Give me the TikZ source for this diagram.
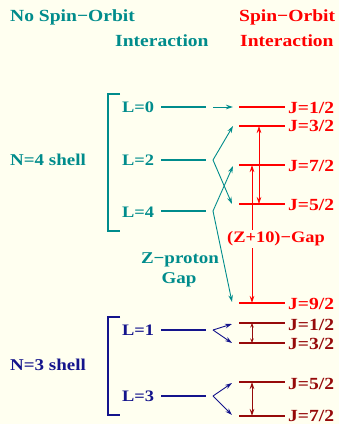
\documentclass[tikz,border=0pt]{standalone}
\usepackage{fontspec}
\setmainfont{Liberation Serif}[FakeStretch=1.15]
\usetikzlibrary{arrows.meta}
\definecolor{bg}{RGB}{255,255,240}
\definecolor{tealc}{RGB}{0,140,140}
\definecolor{navyc}{RGB}{20,20,140}
\definecolor{redc}{RGB}{255,0,0}
\definecolor{dredc}{RGB}{150,10,10}
\begin{document}
\begin{tikzpicture}[x=1pt,y=-1pt,
  lbl/.style={font=\fontsize{16}{19}\selectfont\bfseries, inner sep=0pt, anchor=base west},
  jlbl/.style={font=\fontsize{17}{19}\selectfont\bfseries, inner sep=0pt, anchor=base west},
  big/.style={font=\fontsize{16.5}{19}\selectfont\bfseries, inner sep=0pt},
  hdr/.style={font=\fontsize{17}{20}\selectfont\bfseries, inner sep=0pt, anchor=base west},
  lvl/.style={line width=1.6pt},
  brk/.style={line width=1.5pt},
  tip/.style={line width=0.9pt,-{Stealth[length=7pt,width=4.5pt]}},
  dtip/.style={{Stealth[length=7pt,width=4.5pt]}-{Stealth[length=7pt,width=4.5pt]}},
  stip/.style={line width=0.8pt,{Stealth[length=4.5pt,width=3.5pt]}-{Stealth[length=4.5pt,width=3.5pt]}}
]
\fill[bg] (0,0) rectangle (339,424);
\useasboundingbox (0,0) rectangle (339,424);

% headers
\node[hdr, text=tealc] (h1) at (10,21) {No Spin−Orbit};
\node[hdr, text=tealc] (h2) at (115,46.7) {Interaction};
\node[hdr, text=redc] (h3) at (239,21) {Spin−Orbit};
\node[hdr, text=redc] (h4) at (240,46.7) {Interaction};

% ---------- N=4 shell ----------
\node[big, anchor=base west, text=tealc] (n4) at (10,165.7) {N=4 shell};
\draw[tealc, brk] (120,94) -- (108,94) -- (108,231) -- (120,231);
\node[lbl, text=tealc] (L0) at (122,112.7) {L=0};
\node[lbl, text=tealc] (L2) at (122,165.7) {L=2};
\node[lbl, text=tealc] (L4) at (122,217) {L=4};
\coordinate (l0s) at (161,107); \coordinate (l0e) at (206,107);
\coordinate (l2s) at (161,160); \coordinate (l2e) at (206,160);
\coordinate (l4s) at (161,211); \coordinate (l4e) at (206,211);
\draw[tealc, lvl] (l0s) -- (l0e);
\draw[tealc, lvl] (l2s) -- (l2e);
\draw[tealc, lvl] (l4s) -- (l4e);
\coordinate (k0) at (213,107);
\coordinate (k2) at (213,160);
\coordinate (k4) at (213,211);

% red levels
\coordinate (a12) at (239,107); \coordinate (b12) at (285,107);
\coordinate (a32) at (239,126); \coordinate (b32) at (285,126);
\coordinate (a72) at (239,165); \coordinate (b72) at (285,165);
\coordinate (a52) at (239,204); \coordinate (b52) at (285,204);
\coordinate (a92) at (239,303); \coordinate (b92) at (285,303);
\foreach \p in {12,32,72,52,92} { \draw[redc, lvl] (a\p) -- (b\p); }
\node[jlbl, text=redc] (J12) at (288,113.3) {J=1/2};
\node[jlbl, text=redc] (J32) at (288,131) {J=3/2};
\node[jlbl, text=redc] (J72) at (288,171.5) {J=7/2};
\node[jlbl, text=redc] (J52) at (288,210.5) {J=5/2};
\node[jlbl, text=redc] (J92) at (288,309.5) {J=9/2};

% teal arrows
\coordinate (t12) at (233,107);
\coordinate (t32) at (233,126);
\coordinate (t52) at (232,204);
\coordinate (t72) at (233,166);
\coordinate (t92) at (232,302);
\draw[tealc, tip] (k0) -- (t12);
\draw[tealc, tip] (k2) -- (t32);
\draw[tealc, tip] (k2) -- (t52);
\draw[tealc, tip] (k4) -- (t72);
\draw[tealc, tip] (k4) -- (t92);

% red arrows
\coordinate (r1t) at (259,126); \coordinate (r1b) at (259,204);
\coordinate (r2t) at (252,165); \coordinate (r2b) at (252,303);
\draw[redc, line width=0.6pt, dtip] (r1t) -- (r1b);
\draw[redc, line width=1pt, dtip] (r2t) -- (r2b);
\node[font=\fontsize{16}{19}\selectfont\bfseries, text=redc, fill=bg, inner sep=2pt] (gap) at (276,239) {(Z+10)−Gap};

\node[big, text=tealc, anchor=base] (zp1) at (180,263) {Z−proton};
\node[big, text=tealc, anchor=base] (zp2) at (179,283) {Gap};

% ---------- N=3 shell ----------
\node[big, anchor=base west, text=navyc] (n3) at (10,370) {N=3 shell};
\draw[navyc, brk] (120,317) -- (108,317) -- (108,415) -- (120,415);
\node[lbl, text=navyc] (L1) at (122,335.7) {L=1};
\node[lbl, text=navyc] (L3) at (122,401.7) {L=3};
\coordinate (l1s) at (161,330); \coordinate (l1e) at (206,330);
\coordinate (l3s) at (161,396); \coordinate (l3e) at (206,396);
\draw[navyc, lvl] (l1s) -- (l1e);
\draw[navyc, lvl] (l3s) -- (l3e);
\coordinate (k1) at (213,330);
\coordinate (k3) at (213,396);

\coordinate (c12) at (239,323); \coordinate (d12) at (285,323);
\coordinate (c32) at (239,343); \coordinate (d32) at (285,343);
\coordinate (c52) at (239,382); \coordinate (d52) at (285,382);
\coordinate (c72) at (239,416); \coordinate (d72) at (285,416);
\foreach \p in {12,32,52,72} { \draw[dredc, lvl] (c\p) -- (d\p); }
\node[jlbl, text=dredc] (K12) at (288,330) {J=1/2};
\node[jlbl, text=dredc] (K32) at (288,349.3) {J=3/2};
\node[jlbl, text=dredc] (K52) at (288,389) {J=5/2};
\node[jlbl, text=dredc] (K72) at (288,421.7) {J=7/2};

\coordinate (u12) at (232,324);
\coordinate (u32) at (232,343);
\coordinate (u52) at (232,383);
\coordinate (u72) at (232,415);
\draw[navyc, tip] (k1) -- (u12);
\draw[navyc, tip] (k1) -- (u32);
\draw[navyc, tip] (k3) -- (u52);
\draw[navyc, tip] (k3) -- (u72);

\coordinate (s1t) at (252,323); \coordinate (s1b) at (252,343);
\coordinate (s2t) at (252,382); \coordinate (s2b) at (252,416);
\draw[dredc, stip] (s1t) -- (s1b);
\draw[dredc, line width=0.9pt, dtip] (s2t) -- (s2b);
\end{tikzpicture}
\end{document}
